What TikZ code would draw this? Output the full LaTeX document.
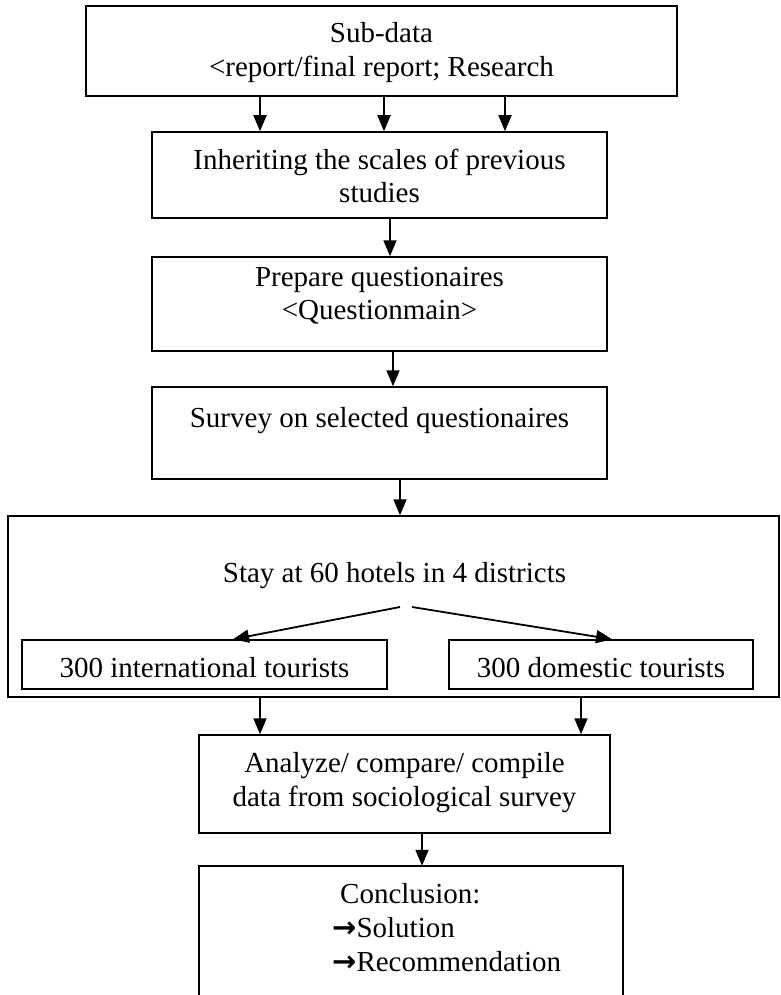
\documentclass[tikz,border=0pt]{standalone}
\usepackage{fontspec}
\setmainfont{Liberation Serif}
\newfontfamily\symfont{DejaVu Sans}
\usetikzlibrary{arrows.meta}
\begin{document}
\begin{tikzpicture}[x=1pt,y=-1pt,
  box/.style={draw,line width=1.5pt,inner sep=0pt,minimum width=#1},
  txt/.style={anchor=base,inner sep=0pt,font=\fontsize{29}{34}\selectfont},
  arr/.style={line width=1.8pt,-{Triangle[width=13pt,length=16pt]}}]
\useasboundingbox (0,0) rectangle (781,995);
% box 1
\node[box=591,minimum height=90] (b1) at (381.5,51) {};
\node[txt] (t1a) at (381.5,43) {Sub-data};
\node[txt] (t1b) at (381.5,77) {<report/final report; Research};
% box 2
\node[box=455,minimum height=86] (b2) at (379.5,175) {};
\node[txt] (t2a) at (379.5,170) {Inheriting the scales of previous};
\node[txt] (t2b) at (379.5,203) {studies};
% box 3
\node[box=455,minimum height=94] (b3) at (379.5,304) {};
\node[txt] (t3a) at (379.5,286) {Prepare questionaires};
\node[txt] (t3b) at (379.5,319) {<Questionmain>};
% box 4
\node[box=455,minimum height=92] (b4) at (379.5,433) {};
\node[txt] (t4) at (379.5,427) {Survey on selected questionaires};
% big box 5
\node[box=771,minimum height=181] (b5) at (393.5,606.5) {};
\node[txt] (t5) at (394.5,582) {Stay at 60 hotels in 4 districts};
\coordinate (s5l) at (400,607);
\coordinate (s5r) at (412,607);
\node[box=365,minimum height=49] (b5a) at (204.5,664.5) {};
\node[txt] (t5a) at (204.5,677) {300 international tourists};
\node[box=304,minimum height=49] (b5b) at (601,664.5) {};
\node[txt] (t5b) at (601,677) {300 domestic tourists};
% box 6
\node[box=411,minimum height=98] (b6) at (404.5,784) {};
\node[txt] (t6a) at (404.5,772) {Analyze/ compare/ compile};
\node[txt] (t6b) at (404.5,806) {data from sociological survey};
% box 7 (open at the bottom)
\node[inner sep=0pt,minimum width=424,minimum height=140] (b7) at (411,936) {};
\draw[line width=1.5pt] (b7.south west) |- (b7.north east) -- (b7.south east);
\node[txt,anchor=base west] (t7a) at (340,903) {Conclusion:};
\node[txt,anchor=base west] (t7b) at (332,937) {{\symfont\bfseries\fontsize{29}{29}\selectfont →}Solution};
\node[txt,anchor=base west] (t7c) at (332,971) {{\symfont\bfseries\fontsize{29}{29}\selectfont →}Recommendation};
% arrows
\draw[arr] (b1.south -| 260,0) -- (b2.north -| 260,0);
\draw[arr] (b1.south -| 384,0) -- (b2.north -| 384,0);
\draw[arr] (b1.south -| 505,0) -- (b2.north -| 505,0);
\draw[arr] (b2.south -| 390,0) -- (b3.north -| 390,0);
\draw[arr] (b3.south -| 393,0) -- (b4.north -| 393,0);
\draw[arr] (b4.south -| 400,0) -- (b5.north -| 400,0);
\draw[arr] (s5l) -- (b5a.north -| 233,0);
\draw[arr] (s5r) -- (b5b.north -| 612,0);
\draw[arr] (b5.south -| 260,0) -- (b6.north -| 260,0);
\draw[arr] (b5.south -| 581,0) -- (b6.north -| 581,0);
\draw[arr] (b6.south -| 422,0) -- (b7.north -| 422,0);
\end{tikzpicture}
\end{document}
